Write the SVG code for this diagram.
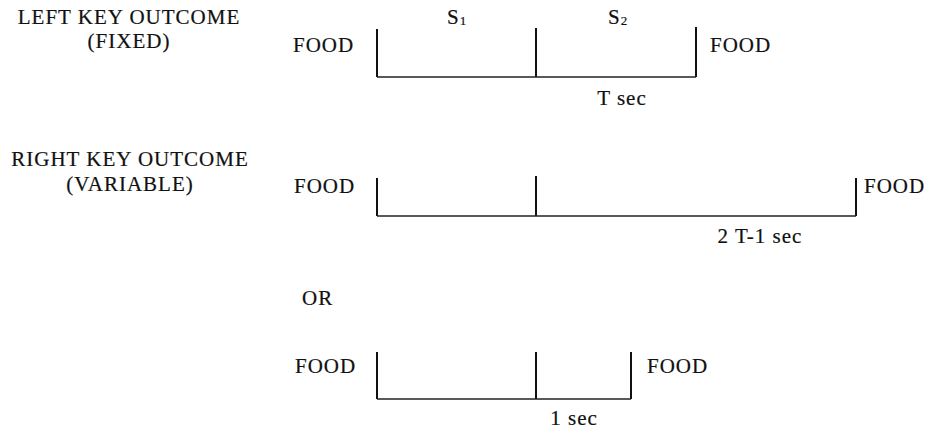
<svg xmlns="http://www.w3.org/2000/svg" width="935" height="431" viewBox="0 0 935 431">
  <style>
    text { font-family: "Liberation Serif", "Times New Roman", serif; font-size: 21px; letter-spacing: 1px; fill: #111; stroke: #111; stroke-width: 0.2; }
    .mid { text-anchor: middle; }
    .sub { font-size: 13px; letter-spacing: 0; }
    .bar { stroke: #111; stroke-width: 2; fill: none; }
    .base { stroke: #222; stroke-width: 1.5; fill: none; }
  </style>

  <!-- left key outcome (fixed) -->
  <g id="left-key-label">
    <text class="mid" x="129" y="24">LEFT KEY OUTCOME</text>
    <text class="mid" x="129" y="48">(FIXED)</text>
  </g>
  <g id="left-key-timeline">
    <text x="293" y="52">FOOD</text>
    <text x="447" y="24">S<tspan class="sub" dy="1">1</tspan></text>
    <text x="608" y="24">S<tspan class="sub" dy="1">2</tspan></text>
    <text x="710" y="52">FOOD</text>
    <text class="mid" x="622" y="105">T sec</text>
  </g>

  <!-- right key outcome (variable) -->
  <g id="right-key-label">
    <text class="mid" x="130" y="166">RIGHT KEY OUTCOME</text>
    <text class="mid" x="130" y="191">(VARIABLE)</text>
  </g>
  <g id="right-key-long">
    <text x="294" y="193">FOOD</text>
    <text x="864" y="193">FOOD</text>
    <text class="mid" x="760" y="243">2 T-1 sec</text>
  </g>

  <g id="or-label">
    <text x="302" y="305">OR</text>
  </g>

  <g id="right-key-short">
    <text x="295" y="373">FOOD</text>
    <text x="647" y="373">FOOD</text>
    <text class="mid" x="574" y="425">1 sec</text>
  </g>

  <!-- timelines -->
  <g id="connectors">
    <path class="bar" d="M377 29 V77 M536 28 V77 M696 27 V77"/>
    <path class="base" d="M377 77 H696"/>
    <path class="bar" d="M377 178 V216 M536 176 V216 M856 178 V216"/>
    <path class="base" d="M377 216 H856"/>
    <path class="bar" d="M377 352 V399 M536 352 V399 M631 352 V399"/>
    <path class="base" d="M377 399 H631"/>
  </g>
</svg>
